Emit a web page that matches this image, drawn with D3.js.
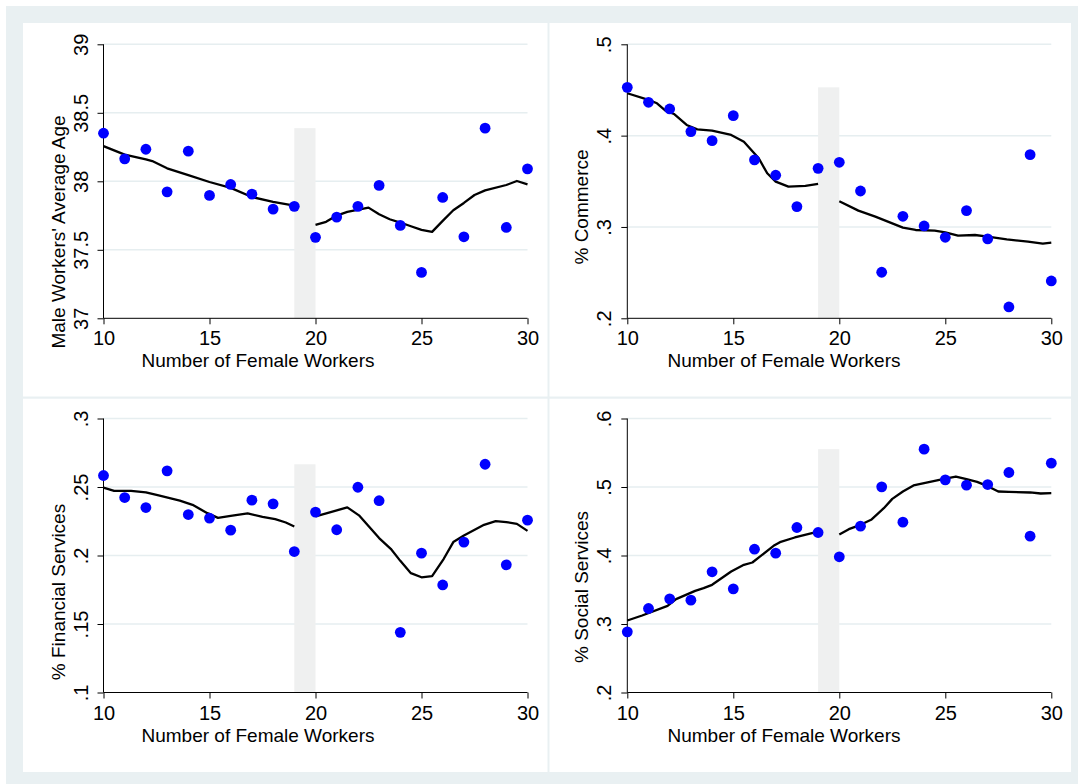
<!DOCTYPE html>
<html>
<head>
<meta charset="utf-8">
<script src="https://cdn.jsdelivr.net/npm/d3@7"></script>
<style>
  body { margin: 0; background: #fff; }
  svg text { font-family: "Liberation Sans", Arial, Helvetica, sans-serif; fill: #000; }
</style>
</head>
<body>
<svg id="chart" width="1078" height="784"></svg>
<script>
// Number of female workers (x values shared by all four panels)
const femaleWorkers = [10, 11, 12, 13, 14, 15, 16, 17, 18, 19, 20, 21, 22, 23, 24, 25, 26, 27, 28, 29, 30];

// Binned means, one per x value
const ageVals = [38.351, 38.164, 38.234, 37.923, 38.220, 37.897, 37.977, 37.906, 37.797, 37.817,
  37.591, 37.739, 37.817, 37.970, 37.678, 37.335, 37.882, 37.595, 38.388, 37.663, 38.091];
const commerceVals = [.4529, .4365, .4292, .4044, .3945, .4219, .3734, .3566, .3223, .3642,
  .3708, .3394, .2504, .3117, .3011, .2887, .3179, .2869, .2124, .3792, .2409];
const financeVals = [.2584, .2423, .2350, .2618, .2299, .2273, .2185, .2404, .2377, .2029,
  .2317, .2188, .2498, .2400, .1439, .2017, .1785, .2098, .2666, .1932, .2258];
const socialVals = [.2886, .3226, .3367, .3348, .3762, .3513, .4092, .4034, .4409, .4336,
  .3981, .4428, .5002, .4487, .5552, .5105, .5027, .5036, .5212, .4282, .5348];

// Smoothed fits, left and right of the cutoff, as [x, y]
const ageFitLeft = [[10, 38.257], [11, 38.195], [12, 38.16], [12.3, 38.148], [13, 38.095], [14, 38.045],
  [15, 37.995], [16, 37.952], [17, 37.885], [18, 37.850], [19, 37.823]];
const ageFitRight = [[20, 37.682], [20.5, 37.704], [21, 37.75], [21.5, 37.777], [22.5, 37.808], [23, 37.760],
  [23.5, 37.723], [24, 37.699], [24.5, 37.672], [25, 37.646], [25.5, 37.631], [26, 37.711], [26.5, 37.789],
  [27, 37.842], [27.5, 37.9], [28, 37.934], [29, 37.973], [29.5, 38.002], [30, 37.978]];

const commerceFitLeft = [[10, .4464], [11, .4391], [11.4, .4354], [11.8, .4274], [12.2, .4237], [12.8, .4117],
  [13.3, .4069], [14, .4055], [14.9, .4007], [15.5, .3934], [16.2, .3752], [16.6, .3588], [17, .3496],
  [17.6, .3442], [18.4, .3449], [19, .3471]];
const commerceFitRight = [[20, .3281], [20.9, .3179], [21.7, .3113], [23, .2993], [23.6, .2967], [24.5, .2960],
  [25, .2942], [25.6, .2905], [26.4, .2912], [27, .2894], [27.9, .2865], [28.9, .2839], [29.6, .2817], [30, .2828]];

const financeFitLeft = [[10, .2496], [10.5, .2472], [11.3, .2472], [12, .2460], [12.6, .2438], [13.6, .2401],
  [14.2, .2370], [14.9, .2309], [15.4, .2275], [16, .2290], [16.8, .2307], [17.5, .2282], [18.1, .2265],
  [18.6, .2241], [19, .2212]];
const financeFitRight = [[20, .2285], [20.55, .2310], [21.5, .2351], [22.05, .2293], [23, .2127], [23.55, .2049],
  [24, .1961], [24.5, .1871], [25, .1841], [25.5, .1849], [26.05, .1976], [26.5, .2098], [27, .2146],
  [27.95, .2224], [28.5, .2251], [29, .2244], [29.5, .2231], [30, .2180]];

const socialFitLeft = [[10, .3051], [10.7, .3124], [11.9, .3265], [12.3, .3363], [13.2, .3484], [13.6, .3523],
  [14, .3572], [14.9, .3766], [15.5, .3864], [15.9, .3898], [16.9, .4141], [17.2, .4195], [17.9, .4263], [19, .4350]];
const socialFitRight = [[20, .4307], [20.45, .4384], [21, .4448], [21.5, .4521], [22.1, .4691], [22.5, .4827],
  [23, .4934], [23.5, .5022], [24, .5056], [25, .5124], [25.5, .5153], [26, .5114], [26.5, .5075], [27, .5012],
  [27.5, .4934], [28, .4929], [29, .4920], [29.5, .4905], [30, .4910]];

// Axis ticks and their labels
const xTicks = [10, 15, 20, 25, 30];
const ageTicks = [37, 37.5, 38, 38.5, 39];
const ageTickLabels = ["37", "37.5", "38", "38.5", "39"];
const commerceTicks = [.2, .3, .4, .5];
const commerceTickLabels = [".2", ".3", ".4", ".5"];
const financeTicks = [.1, .15, .2, .25, .3];
const financeTickLabels = [".1", ".15", ".2", ".25", ".3"];
const socialTicks = [.2, .3, .4, .5, .6];
const socialTickLabels = [".2", ".3", ".4", ".5", ".6"];

const cutoff = [19, 20];
const xTitle = "Number of Female Workers";

const svg = d3.select("#chart");
const bgColor = "#e9f0f2";
const gridColor = "#e6eef0";

// outer graph region and the four white panels
svg.append("rect").attr("x", 6).attr("y", 6).attr("width", 1072).attr("height", 778).attr("fill", bgColor);
[[23, 23, 524.5, 373.5], [549.5, 23, 521.5, 373.5], [23, 398.7, 524.5, 373.3], [549.5, 398.7, 521.5, 373.3]]
  .forEach(r => {
    svg.append("rect").attr("x", r[0]).attr("y", r[1]).attr("width", r[2]).attr("height", r[3]).attr("fill", "#fff");
  });

const panels = [
  { x0: 103.5, y0: 44.3, vals: ageVals, fitL: ageFitLeft, fitR: ageFitRight, domain: [37, 39],
    ticks: ageTicks, labels: ageTickLabels, title: "Male Workers' Average Age", titleY: 232, xTitleX: 258 },
  { x0: 627.3, y0: 44.3, vals: commerceVals, fitL: commerceFitLeft, fitR: commerceFitRight, domain: [.2, .5],
    ticks: commerceTicks, labels: commerceTickLabels, title: "% Commerce", titleY: 207, xTitleX: 784 },
  { x0: 103.5, y0: 418.5, vals: financeVals, fitL: financeFitLeft, fitR: financeFitRight, domain: [.1, .3],
    ticks: financeTicks, labels: financeTickLabels, title: "% Financial Services", titleY: 592, xTitleX: 258 },
  { x0: 627.3, y0: 418.5, vals: socialVals, fitL: socialFitLeft, fitR: socialFitRight, domain: [.2, .6],
    ticks: socialTicks, labels: socialTickLabels, title: "% Social Services", titleY: 587, xTitleX: 784 }
];

const plotW = 424, plotH = 274;

panels.forEach(p => {
  const x = d3.scaleLinear().domain([10, 30]).range([p.x0, p.x0 + plotW]);
  const y = d3.scaleLinear().domain(p.domain).range([p.y0 + plotH, p.y0]);
  const g = svg.append("g");

  // gridlines
  g.selectAll(".grid").data(p.ticks.slice(1)).enter().append("line")
    .attr("x1", x(10)).attr("x2", x(30))
    .attr("y1", d => y(d)).attr("y2", d => y(d))
    .attr("stroke", gridColor).attr("stroke-width", 1.5);

  // shaded band at the cutoff, up to the highest binned value
  g.append("rect")
    .attr("x", x(cutoff[0])).attr("width", x(cutoff[1]) - x(cutoff[0]))
    .attr("y", y(d3.max(p.vals))).attr("height", y(p.domain[0]) - y(d3.max(p.vals)))
    .attr("fill", "#eff0f0");

  // axes
  const xAxis = d3.axisBottom(x).tickValues(xTicks).tickSize(6).tickPadding(6).tickFormat(d3.format("d"));
  const gx = g.append("g").attr("transform", `translate(0,${y(p.domain[0])})`).call(xAxis);
  gx.select(".domain").attr("d", `M${x(10)},0H${x(30)}`);
  gx.selectAll("text").attr("font-size", 20).attr("dy", null).attr("y", 27);

  const yAxis = d3.axisLeft(y).tickValues(p.ticks).tickSize(6).tickFormat((d, i) => p.labels[i]);
  const gy = g.append("g").attr("transform", `translate(${x(10)},0)`).call(yAxis);
  gy.select(".domain").attr("d", `M0,${y(p.domain[0])}V${y(p.domain[1])}`);
  gy.selectAll("text")
    .attr("font-size", 20).attr("text-anchor", "middle").attr("dy", null).attr("x", null)
    .attr("transform", d => `translate(-16,0) rotate(-90)`);
  g.selectAll(".domain, .tick line").attr("stroke", "#000").attr("stroke-width", 1);

  // fitted lines
  const line = d3.line().x(d => x(d[0])).y(d => y(d[1]));
  [p.fitL, p.fitR].forEach(fit => {
    g.append("path").attr("d", line(fit)).attr("fill", "none")
      .attr("stroke", "#000").attr("stroke-width", 2.3).attr("stroke-linejoin", "round");
  });

  // binned means
  g.selectAll(".dot").data(p.vals).enter().append("circle")
    .attr("cx", (d, i) => x(femaleWorkers[i])).attr("cy", d => y(d))
    .attr("r", 5.4).attr("fill", "#0000ff");

  // titles
  g.append("text").attr("x", p.xTitleX).attr("y", y(p.domain[0]) + 49)
    .attr("text-anchor", "middle").attr("font-size", 19).text(xTitle);
  g.append("text").attr("text-anchor", "middle").attr("font-size", 19)
    .attr("transform", `translate(${x(10) - 39},${p.titleY}) rotate(-90)`).text(p.title);
});
</script>
</body>
</html>
